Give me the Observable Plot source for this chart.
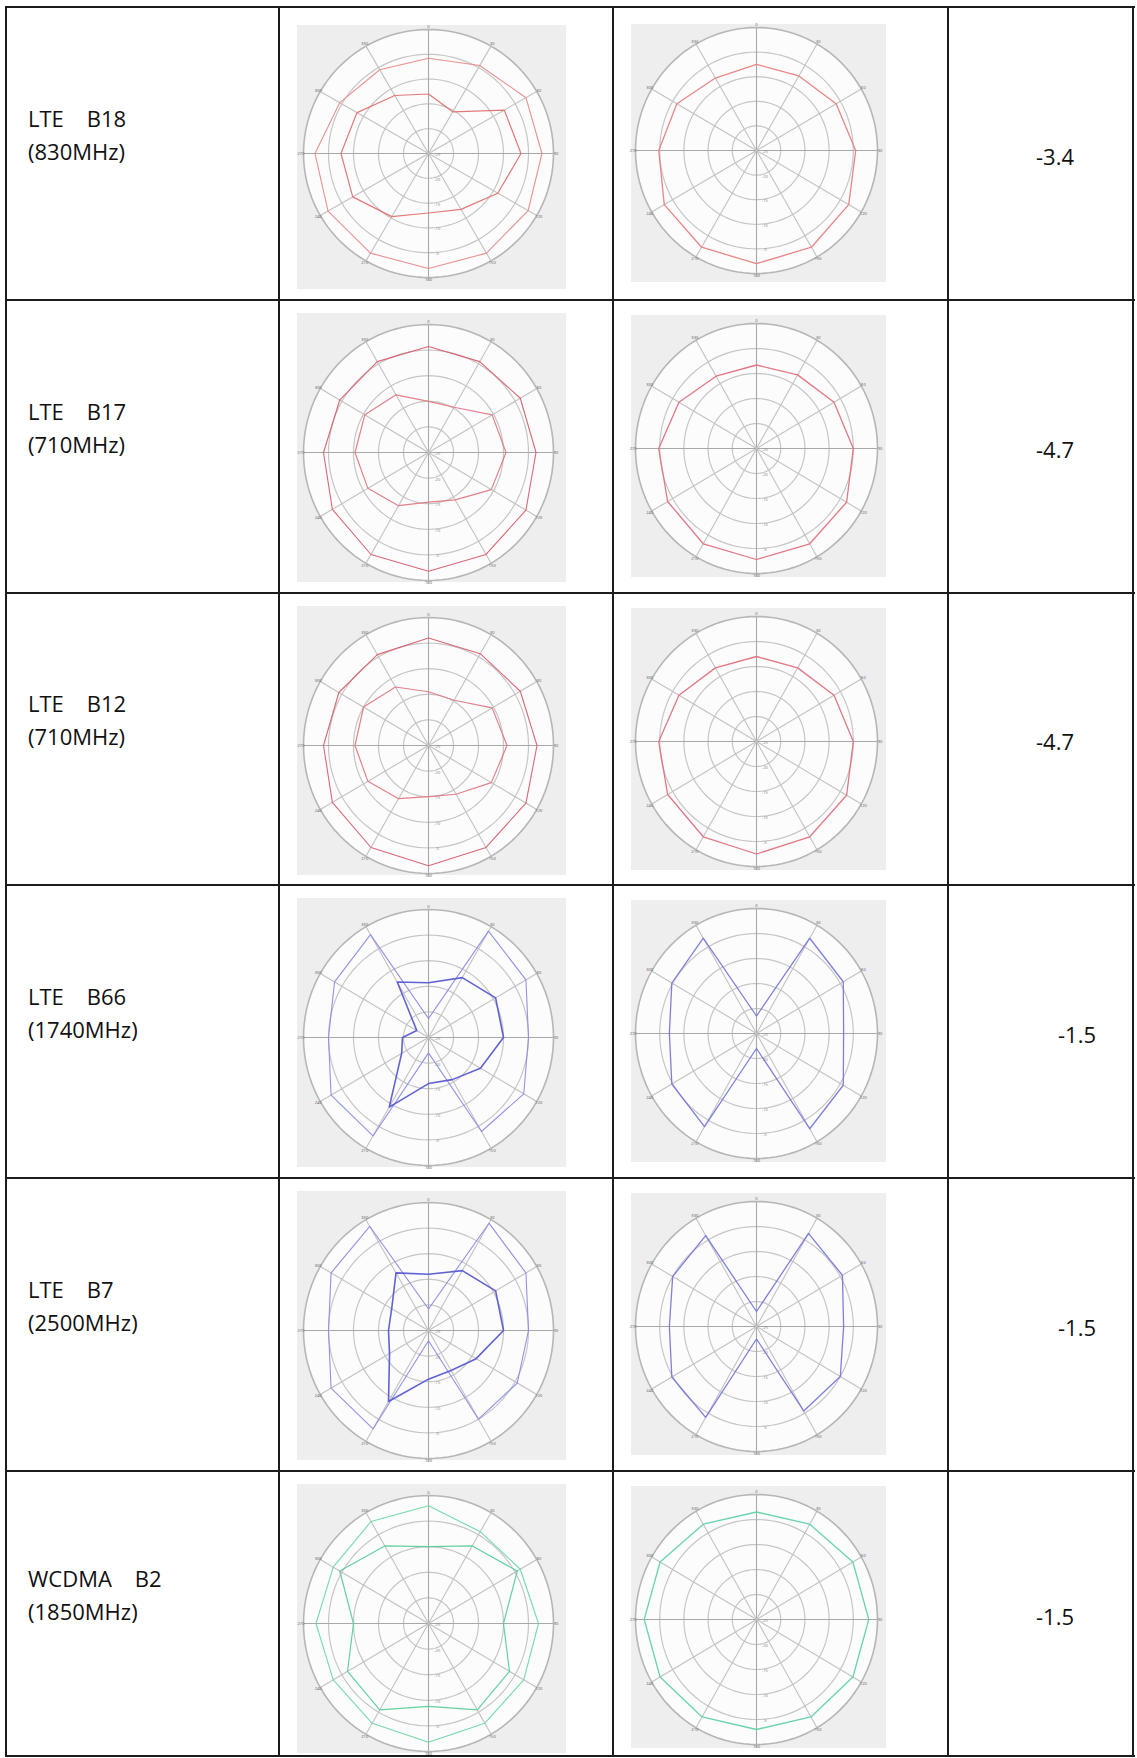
<!DOCTYPE html>
<html>
<head>
<meta charset="utf-8">
<script src="https://cdn.jsdelivr.net/npm/d3@7"></script>
<script src="https://cdn.jsdelivr.net/npm/@observablehq/plot@0.6"></script>
<style>
  html,body{margin:0;padding:0;background:#fff;}
  #page{position:relative;width:1137px;height:1758px;overflow:hidden;font-family:"Open Sans","Noto Sans",sans-serif;color:#111;}
  .ln{position:absolute;background:#1c1c1c;}
  .lbl{position:absolute;font-size:22px;line-height:26px;white-space:pre;}
  .pc{position:absolute;}
</style>
</head>
<body>
<div id="page"></div>
<script>
// ---------------- data ----------------
const bandSystems = ["LTE", "LTE", "LTE", "LTE", "LTE", "WCDMA"];
const bandCodes = ["B18", "B17", "B12", "B66", "B7", "B2"];
const bandFreqs = ["(830MHz)", "(710MHz)", "(710MHz)", "(1740MHz)", "(2500MHz)", "(1850MHz)"];
const peakGains = ["-3.4", "-4.7", "-4.7", "-1.5", "-1.5", "-1.5"];

const angleTicks = [0, 30, 60, 90, 120, 150, 180, 210, 240, 270, 300, 330];
const radialTicks = [-25, -20, -15, -10, -5];
const ringLevels = [-20, -15, -10, -5, 0];
const radialDomain = [-25, 0];

// pattern values (dB) at angleTicks
const b18LeftOuter = [-5.8, -4.5, -2.5, -2.3, -2.0, -1.8, -1.8, -1.8, -1.8, -2.3, -4.5, -5.5];
const b18LeftInner = [-13.0, -15.3, -7.5, -6.5, -9.0, -12.0, -13.0, -10.3, -7.5, -7.5, -8.5, -11.5];
const b18Right = [-7.5, -7.5, -6.0, -4.5, -3.0, -2.3, -2.0, -2.3, -3.0, -4.8, -6.0, -8.0];

const b17LeftOuter = [-4.3, -4.5, -3.8, -3.5, -2.5, -2.0, -1.8, -2.0, -2.8, -4.0, -4.5, -4.5];
const b17LeftInner = [-15.0, -14.8, -10.3, -9.5, -10.5, -14.3, -15.3, -13.0, -11.0, -10.3, -10.3, -12.0];
const b17Right = [-8.3, -8.0, -6.5, -5.0, -3.5, -3.0, -2.8, -3.0, -3.8, -4.8, -6.5, -8.3];

const b12LeftOuter = [-4.0, -4.3, -3.8, -3.3, -2.5, -2.0, -1.5, -2.0, -2.8, -4.0, -4.3, -4.5];
const b12LeftInner = [-14.5, -14.8, -10.3, -9.3, -10.5, -14.0, -15.0, -13.0, -11.0, -10.3, -10.0, -11.8];
const b12Right = [-8.0, -8.0, -6.5, -5.0, -3.5, -3.0, -2.5, -3.0, -3.8, -4.8, -6.5, -8.0];

const b66LeftOuter = [-21.3, -1.0, -2.5, -5.0, -3.0, -3.8, -22.0, -2.8, -2.5, -5.0, -3.3, -1.8];
const b66LeftInner = [-14.3, -11.5, -9.5, -10.0, -13.0, -15.5, -16.0, -9.3, -18.8, -19.8, -22.3, -12.5];
const b66Right = [-21.5, -3.0, -4.3, -7.0, -4.3, -3.0, -22.0, -3.5, -4.8, -7.0, -4.8, -3.0];

const b7LeftOuter = [-20.8, -0.8, -2.5, -5.0, -4.5, -5.0, -23.0, -2.8, -2.5, -5.0, -2.5, -1.5];
const b7LeftInner = [-14.0, -11.5, -9.5, -10.0, -14.0, -16.0, -15.5, -9.0, -16.0, -17.0, -16.5, -12.0];
const b7Right = [-22.0, -3.5, -4.5, -7.0, -5.0, -5.5, -22.5, -4.0, -4.8, -7.0, -5.0, -4.0];

const b2LeftOuter = [-2.0, -4.3, -3.8, -3.0, -3.0, -2.5, -1.8, -2.5, -3.0, -2.5, -3.0, -2.0];
const b2LeftInner = [-10.0, -7.5, -4.5, -10.0, -6.3, -5.5, -8.8, -5.5, -6.3, -10.0, -4.5, -7.5];
const b2Right = [-3.5, -3.0, -2.0, -1.8, -2.0, -2.5, -3.0, -2.5, -2.0, -1.8, -2.0, -3.0];

const leftSeries = [
  [b18LeftOuter, b18LeftInner], [b17LeftOuter, b17LeftInner], [b12LeftOuter, b12LeftInner],
  [b66LeftOuter, b66LeftInner], [b7LeftOuter, b7LeftInner], [b2LeftOuter, b2LeftInner]
];
const rightSeries = [[b18Right], [b17Right], [b12Right], [b66Right], [b7Right], [b2Right]];

// ---------------- styles / layout ----------------
const palettes = [
  {outer: "#e98a8a", inner: "#e07272", right: "#e88080"},
  {outer: "#d86070", inner: "#e07a85", right: "#e07080"},
  {outer: "#d86070", inner: "#e07a85", right: "#e07080"},
  {outer: "#8c8ce6", inner: "#5a5ad2", right: "#7878dc"},
  {outer: "#8c8ce6", inner: "#5a5ad2", right: "#7878dc"},
  {outer: "#6fd8a8", inner: "#5ccf9c", right: "#62d2a6"}
];
const rowTops = [7, 300, 593, 885, 1178, 1471];
const tableBottom = 1756;
const colX = [6, 279, 613, 948, 1133];
const gainX = [1036, 1036, 1036, 1058, 1058, 1036];

const page = document.getElementById("page");
function line(x, y, w, h) {
  const d = document.createElement("div");
  d.className = "ln";
  Object.assign(d.style, {left: x + "px", top: y + "px", width: w + "px", height: h + "px"});
  page.appendChild(d);
}
function label(txt, x, yc) {
  const d = document.createElement("div");
  d.className = "lbl";
  d.textContent = txt;
  Object.assign(d.style, {left: x + "px", top: (yc - 13) + "px"});
  page.appendChild(d);
}

const toFrac = v => (v - radialDomain[0]) / (radialDomain[1] - radialDomain[0]);
const rad = a => a * Math.PI / 180;

function polarChart(series, colors, widths, g) {
  const circ = d3.range(0, 361, 3);
  const disc = d3.range(0, 181, 2).map(t => ({x: -Math.cos(rad(t)), y1: -Math.sin(rad(t)), y2: Math.sin(rad(t))}));
  const rings = ringLevels.flatMap(lv => circ.map(t => ({lv, x: toFrac(lv) * Math.sin(rad(t)), y: toFrac(lv) * Math.cos(rad(t))})));
  const marks = [
    Plot.areaY(disc, {x: "x", y1: "y1", y2: "y2", fill: "#fcfcfc"}),
    Plot.line(rings.filter(d => d.lv !== 0), {x: "x", y: "y", z: "lv", stroke: "#c6c6c6", strokeWidth: 1.2}),
    Plot.link(angleTicks, {x1: () => 0, y1: () => 0, x2: a => Math.sin(rad(a)), y2: a => Math.cos(rad(a)),
      stroke: a => (a % 90 === 0 ? "#a8a8a8" : "#c2c2c2"), strokeWidth: 1.1}),
    Plot.line(rings.filter(d => d.lv === 0), {x: "x", y: "y", stroke: "#b6b6b6", strokeWidth: 1.6})
  ];
  series.forEach((s, i) => {
    const pts = angleTicks.concat([angleTicks[0]]).map((a, k) => {
      const v = s[k % angleTicks.length];
      return {x: toFrac(v) * Math.sin(rad(a)), y: toFrac(v) * Math.cos(rad(a))};
    });
    marks.push(Plot.line(pts, {x: "x", y: "y", stroke: colors[i], strokeWidth: widths[i], strokeOpacity: 0.95}));
  });
  marks.push(
    Plot.text(angleTicks, {x: a => 1.02 * Math.sin(rad(a)), y: a => 1.02 * Math.cos(rad(a)), text: a => String(a),
      fontSize: 4, fill: "#666"}),
    Plot.text(radialTicks, {x: () => 0.07, y: v => -toFrac(v) - 0.01, text: v => String(v), fontSize: 4, fill: "#888"})
  );
  return Plot.plot({
    width: g.W, height: g.H, margin: 0,
    x: {domain: [-1, 1], range: [g.cx - g.Rx, g.cx + g.Rx], axis: null},
    y: {domain: [-1, 1], range: [g.cy + g.Ry, g.cy - g.Ry], axis: null},
    style: {background: "#eeeeee", overflow: "visible"},
    marks
  });
}

const g1 = {W: 269, H: 269, cx: 131, cy: 139, Rx: 125, Ry: 128, dy: 13};
const g2 = {W: 255, H: 262, cx: 125, cy: 133, Rx: 121, Ry: 125, dy: 15};
const g1First = {W: 269, H: 264, cx: 131, cy: 128, Rx: 125, Ry: 124, dy: 18};
const g2First = {W: 255, H: 258, cx: 125, cy: 126, Rx: 121, Ry: 123, dy: 17};

rowTops.forEach((top, i) => {
  const bottom = i < rowTops.length - 1 ? rowTops[i + 1] : tableBottom;
  const yc = (top + bottom) / 2;
  label(bandSystems[i] + "    " + bandCodes[i], 28, yc - 36);
  label(bandFreqs[i], 28, yc - 3);
  label(peakGains[i], gainX[i], yc + 2);

  const p = palettes[i];
  const ga = i === 0 ? g1First : g1;
  const gb = i === 0 ? g2First : g2;
  const c1 = document.createElement("div");
  c1.className = "pc";
  Object.assign(c1.style, {left: "297px", top: (top + ga.dy) + "px", width: ga.W + "px", height: ga.H + "px"});
  c1.appendChild(polarChart(leftSeries[i], [p.outer, p.inner], [1.1, i === 3 || i === 4 ? 1.6 : 1.2], ga));
  page.appendChild(c1);

  const c2 = document.createElement("div");
  c2.className = "pc";
  Object.assign(c2.style, {left: "631px", top: (top + gb.dy) + "px", width: gb.W + "px", height: gb.H + "px"});
  c2.appendChild(polarChart(rightSeries[i], [p.right], [1.3], gb));
  page.appendChild(c2);
});

// table rules
rowTops.concat([tableBottom]).forEach(y => line(colX[0], y - 1, colX[colX.length - 1] - colX[0] + 2, 2));
colX.forEach(x => line(x - 1, rowTops[0] - 1, 2, tableBottom - rowTops[0] + 2));
</script>
</body>
</html>
